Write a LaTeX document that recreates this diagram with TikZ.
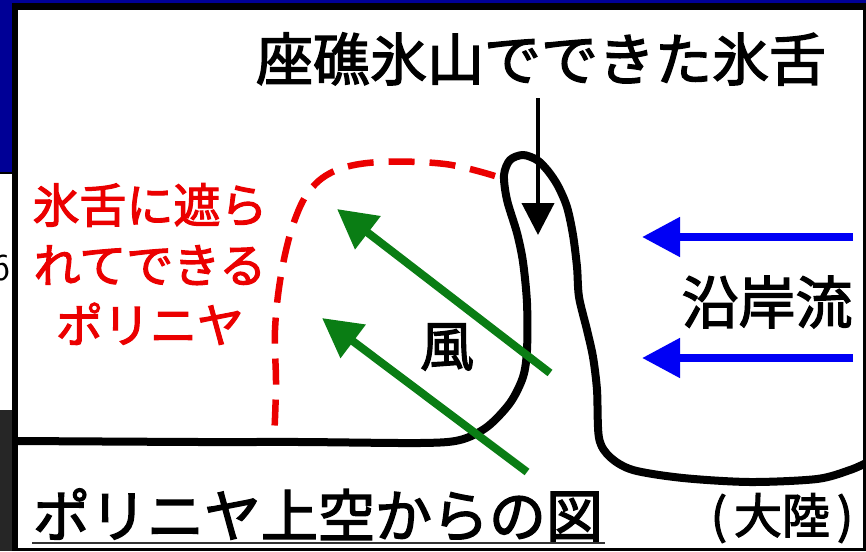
\documentclass[tikz,border=0pt]{standalone}
\usepackage{fontspec}
\newfontfamily\jp{Noto Sans CJK JP}[FakeBold=2.4]
\usetikzlibrary{arrows.meta}
\definecolor{slideblue}{RGB}{0,0,150}
\definecolor{windgreen}{RGB}{10,125,20}
\definecolor{currentblue}{RGB}{0,0,245}
\definecolor{polynyared}{RGB}{235,0,0}

\begin{document}
\begin{tikzpicture}[x=1pt,y=-1pt,
    jtext/.style={font=\jp\fontsize{#1}{#1}\selectfont, inner sep=0pt},
    coast/.style={line width=8pt, line cap=round, line join=round},
    polynya edge/.style={polynyared, line width=6.5pt, dash pattern=on 26pt off 15pt},
    wind/.style={windgreen, line width=8pt, -{Triangle[length=39pt,width=40pt]}},
    current/.style={currentblue, line width=8pt, -{Triangle[length=38pt,width=38pt]}}]
  \useasboundingbox (0,0) rectangle (866,551);
  % slide behind the panel
  \fill[black] (0,0) rectangle (866,551);
  \fill[slideblue] (0,0) rectangle (866,3);
  \fill[slideblue] (0,0) rectangle (12,172);
  \fill[white] (0,174) rectangle (12,410);
  \fill[gray!30!black] (0,410) rectangle (12,551);
  \begin{scope}
    \clip (0,174) rectangle (11,300);
    \node[font=\sffamily\fontsize{38}{38}\selectfont, inner sep=0pt] (pagenum) at (1,268) {6};
  \end{scope}
  \fill[white] (18,10) rectangle (863,548);

  % coast and the ice tongue
  \draw[coast] plot[smooth, tension=0.5] coordinates {(18,441) (200,442) (300,442) (420,443)
    (460,440) (487,427) (510,403) (523,377) (527,350) (527,303) (523,262) (517,233)
    (507,200) (504,175) (510,160) (523,155) (537,160) (548,171) (558,186) (567,207)
    (573,235) (577,267) (579,297) (587,330) (593,357) (597,390) (599,438) (610,457)
    (633,470) (683,478) (750,482) (817,479) (850,470) (866,463)};

  % polynya in the lee of the tongue
  \draw[polynya edge] plot[smooth, tension=0.6] coordinates {(495,176) (445,164) (380,162)
    (337,170) (310,190) (293,225) (281,275) (275,330) (276,385) (274,440)};

  % labels
  \node[jtext=57] (title) at (541,59) {座礁氷山でできた氷舌};
  \node[polynyared, align=center, inner sep=0pt, font=\jp\fontsize{47}{60}\selectfont]
    (polynya) at (150,264) {氷舌に遮ら\\れてできる\\ポリニヤ};
  \node[jtext=54] (wind) at (447,347) {風};
  \node[jtext=57] (current) at (767,302) {沿岸流};
  \node[jtext=57] (caption) at (318,515) {ポリニヤ上空からの図};
  \node[jtext=48] (continent) at (782,518) {(\kern7pt 大陸\kern7pt )};
  \draw[line width=1.5pt, gray!40!black] (32,543) -- (605,543);

  % tongue pointer
  \coordinate (pointtop) at (538,98);
  \coordinate (tonguetip) at (538,235);
  \draw[line width=4pt, -{Triangle[length=32pt,width=32pt]}] (pointtop) -- (tonguetip);

  % wind over the polynya
  \coordinate (windA) at (550,373);
  \coordinate (windAtip) at (337,209);
  \coordinate (windB) at (527,472);
  \coordinate (windBtip) at (322,318);
  \draw[wind] (windA) -- (windAtip);
  \draw[wind] (windB) -- (windBtip);

  % coastal current
  \coordinate (curA) at (853,237);
  \coordinate (curAtip) at (642,237);
  \coordinate (curB) at (853,358);
  \coordinate (curBtip) at (642,358);
  \draw[current] (curA) -- (curAtip);
  \draw[current] (curB) -- (curBtip);
\end{tikzpicture}
\end{document}
